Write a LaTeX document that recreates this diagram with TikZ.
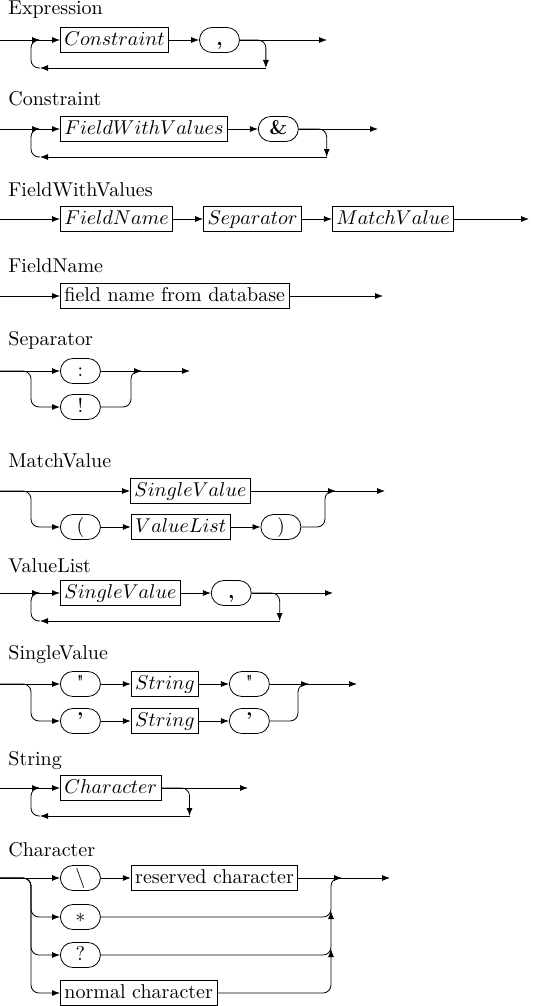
\documentclass[tikz,border=0pt]{standalone}
\usepackage{tikz}
\usetikzlibrary{arrows.meta, positioning, calc}

\begin{document}
\begin{tikzpicture}[x=0.5pt, y=-0.5pt, >={Latex[length=4pt, width=3pt]},
  title/.style={anchor=base west, inner sep=0pt},
  nonterm/.style={draw, rectangle, minimum height=12.5pt, inner xsep=2pt, inner ysep=2pt, text height=1.5ex, text depth=.25ex},
  term/.style={draw, rectangle, rounded corners=6.25pt, minimum width=20pt, minimum height=12.5pt, inner sep=2pt, text height=1.5ex, text depth=.25ex},
  rail/.style={->, rounded corners=4pt}
]
  \useasboundingbox (0,0) rectangle (532,1006);

  % Expression
  \node[title] (ex-t) at (8,15) {Expression};
  \coordinate (ex-in) at (0,40);
  \coordinate (ex-out) at (327,40);
  \node[nonterm, anchor=west] (ex-con) at (60,40) {$Constraint$};
  \node[term, right=15pt of ex-con] (ex-comma) {\textbf{,}};
  \coordinate (ex-rb) at ($(ex-comma.east)+(26,28)$);
  \coordinate (ex-lb) at (40,68);
  \coordinate (ex-lt) at (40,40);
  \draw[rail] (ex-in) -- (ex-con);
  \draw[rail] (ex-con) -- (ex-comma);
  \draw[rail] (ex-comma) -- (ex-out);
  \draw[rail] (ex-comma.east) -| (ex-rb);
  \draw[rail] (ex-rb) -- (ex-lb);
  \draw[rail] (ex-lb) -- ++(-9,0) |- (ex-lt);

  % Constraint
  \node[title] (co-t) at (8,105) {Constraint};
  \coordinate (co-in) at (0,129);
  \coordinate (co-out) at (378,129);
  \node[nonterm, anchor=west] (co-fwv) at (60,129) {$FieldWithValues$};
  \node[term, right=15pt of co-fwv] (co-amp) {\textbf{\&}};
  \coordinate (co-rb) at ($(co-amp.east)+(28,28)$);
  \coordinate (co-lb) at (40,157);
  \coordinate (co-lt) at (40,129);
  \draw[rail] (co-in) -- (co-fwv);
  \draw[rail] (co-fwv) -- (co-amp);
  \draw[rail] (co-amp) -- (co-out);
  \draw[rail] (co-amp.east) -| (co-rb);
  \draw[rail] (co-rb) -- (co-lb);
  \draw[rail] (co-lb) -- ++(-9,0) |- (co-lt);

  % FieldWithValues
  \node[title] (fw-t) at (8,196) {FieldWithValues};
  \coordinate (fw-in) at (0,219);
  \coordinate (fw-out) at (529,219);
  \node[nonterm, anchor=west] (fw-name) at (60,219) {$FieldName$};
  \node[nonterm, right=15pt of fw-name] (fw-sep) {$Separator$};
  \node[nonterm, right=15pt of fw-sep] (fw-mv) {$MatchValue$};
  \draw[rail] (fw-in) -- (fw-name);
  \draw[rail] (fw-name) -- (fw-sep);
  \draw[rail] (fw-sep) -- (fw-mv);
  \draw[rail] (fw-mv) -- (fw-out);

  % FieldName
  \node[title] (fn-t) at (8,272) {FieldName};
  \coordinate (fn-in) at (0,296);
  \coordinate (fn-out) at (383,296);
  \node[nonterm, anchor=west] (fn-db) at (60,296) {field name from database};
  \draw[rail] (fn-in) -- (fn-db);
  \draw[rail] (fn-db) -- (fn-out);

  % Separator
  \node[title] (sp-t) at (8,345) {Separator};
  \coordinate (sp-in) at (0,371);
  \coordinate (sp-out) at (190,371);
  \node[term, anchor=west] (sp-colon) at (60,371) {:};
  \node[term, anchor=west] (sp-bang) at (60,407) {!};
  \coordinate (sp-l2) at (31,407);
  \coordinate (sp-rt) at (131,371);
  \draw[rail] (sp-in) -- (sp-colon);
  \draw[rail] (sp-in) -| (sp-l2) -- (sp-bang);
  \draw[rail] (sp-colon) -- (sp-out);
  \draw[rail] (sp-bang.east) -| (sp-rt) -- ++(11,0);

  % MatchValue
  \node[title] (mv-t) at (8,467) {MatchValue};
  \coordinate (mv-in) at (0,491);
  \coordinate (mv-out) at (385,491);
  \node[nonterm, anchor=west] (mv-single) at (130,491) {$SingleValue$};
  \node[term, anchor=west] (mv-open) at (60,527) {(};
  \node[nonterm, right=15pt of mv-open] (mv-list) {$ValueList$};
  \node[term, right=15pt of mv-list] (mv-close) {)};
  \coordinate (mv-l2) at (31,527);
  \coordinate (mv-rt) at (325,491);
  \draw[rail] (mv-in) -- (mv-single);
  \draw[rail] (mv-in) -| (mv-l2) -- (mv-open);
  \draw[rail] (mv-open) -- (mv-list);
  \draw[rail] (mv-list) -- (mv-close);
  \draw[rail] (mv-single) -- (mv-out);
  \draw[rail] (mv-close.east) -| (mv-rt) -- ++(11,0);

  % ValueList
  \node[title] (vl-t) at (8,572) {ValueList};
  \coordinate (vl-in) at (0,593);
  \coordinate (vl-out) at (333,593);
  \node[nonterm, anchor=west] (vl-single) at (60,593) {$SingleValue$};
  \node[term, right=15pt of vl-single] (vl-comma) {\textbf{,}};
  \coordinate (vl-rb) at ($(vl-comma.east)+(28,28)$);
  \coordinate (vl-lb) at (40,621);
  \coordinate (vl-lt) at (40,593);
  \draw[rail] (vl-in) -- (vl-single);
  \draw[rail] (vl-single) -- (vl-comma);
  \draw[rail] (vl-comma) -- (vl-out);
  \draw[rail] (vl-comma.east) -| (vl-rb);
  \draw[rail] (vl-rb) -- (vl-lb);
  \draw[rail] (vl-lb) -- ++(-9,0) |- (vl-lt);

  % SingleValue
  \node[title] (sv-t) at (8,659) {SingleValue};
  \coordinate (sv-in) at (0,684);
  \coordinate (sv-out) at (357,684);
  \node[term, anchor=west] (sv-dq1) at (60,684) {\textquotedbl};
  \node[nonterm, right=15pt of sv-dq1] (sv-str1) {$String$};
  \node[term, right=15pt of sv-str1] (sv-dq2) {\textquotedbl};
  \node[term, anchor=west] (sv-sq1) at (60,721) {\textbf{'}};
  \node[nonterm, right=15pt of sv-sq1] (sv-str2) {$String$};
  \node[term, right=15pt of sv-str2] (sv-sq2) {\textbf{'}};
  \coordinate (sv-l2) at (31,721);
  \coordinate (sv-rt) at (298,684);
  \draw[rail] (sv-in) -- (sv-dq1);
  \draw[rail] (sv-dq1) -- (sv-str1);
  \draw[rail] (sv-str1) -- (sv-dq2);
  \draw[rail] (sv-dq2) -- (sv-out);
  \draw[rail] (sv-in) -| (sv-l2) -- (sv-sq1);
  \draw[rail] (sv-sq1) -- (sv-str2);
  \draw[rail] (sv-str2) -- (sv-sq2);
  \draw[rail] (sv-sq2.east) -| (sv-rt) -- ++(11,0);

  % String
  \node[title] (st-t) at (8,765) {String};
  \coordinate (st-in) at (0,788);
  \coordinate (st-out) at (248,788);
  \node[nonterm, anchor=west] (st-char) at (60,788) {$Character$};
  \coordinate (st-rb) at ($(st-char.east)+(28,28)$);
  \coordinate (st-lb) at (40,816);
  \coordinate (st-lt) at (40,788);
  \draw[rail] (st-in) -- (st-char);
  \draw[rail] (st-char) -- (st-out);
  \draw[rail] (st-char.east) -| (st-rb);
  \draw[rail] (st-rb) -- (st-lb);
  \draw[rail] (st-lb) -- ++(-9,0) |- (st-lt);

  % Character
  \node[title] (ch-t) at (8,856) {Character};
  \coordinate (ch-in) at (0,878);
  \coordinate (ch-out) at (390,878);
  \node[term, anchor=west] (ch-esc) at (60,878) {\textbackslash};
  \node[nonterm, right=15pt of ch-esc] (ch-res) {reserved character};
  \node[term, anchor=west] (ch-star) at (60,917) {$*$};
  \node[term, anchor=west] (ch-quest) at (60,955) {?};
  \node[nonterm, anchor=west] (ch-norm) at (60,993) {normal character};
  \coordinate (ch-l2) at (31,917);
  \coordinate (ch-l3) at (31,955);
  \coordinate (ch-l4) at (31,993);
  \coordinate (ch-rt) at (331,878);
  \coordinate (ch-r2) at (331,911);
  \coordinate (ch-r3) at (331,949);
  \draw[rail] (ch-in) -- (ch-esc);
  \draw[rail] (ch-esc) -- (ch-res);
  \draw[rail] (ch-res) -- (ch-out);
  \draw[rail] (ch-in) -| (ch-l2) -- (ch-star);
  \draw[rail] (ch-in) -| (ch-l3) -- (ch-quest);
  \draw[rail] (ch-in) -| (ch-l4) -- (ch-norm);
  \draw[rail] (ch-star.east) -| (ch-rt) -- ++(11,0);
  \draw[rail] (ch-quest.east) -| (ch-r2);
  \draw[rail] (ch-norm.east) -| (ch-r3);
\end{tikzpicture}
\end{document}
